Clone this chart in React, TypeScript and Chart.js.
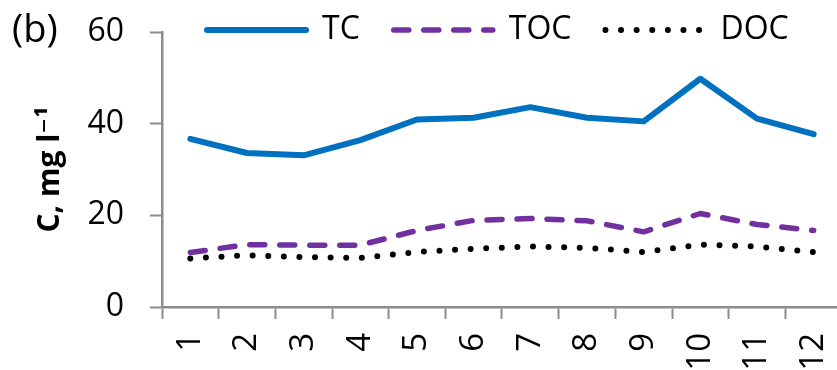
import { useEffect, useRef } from "react";
import { Chart, registerables } from "chart.js";

Chart.register(...registerables);

// Monthly carbon concentrations, mg l-1
const months = ["1", "2", "3", "4", "5", "6", "7", "8", "9", "10", "11", "12"];
const tcValues = [36.7, 33.6, 33.1, 36.4, 40.9, 41.3, 43.6, 41.3, 40.5, 49.8, 41.1, 37.7];
const tocValues = [11.9, 13.6, 13.5, 13.5, 16.7, 18.9, 19.3, 18.8, 16.4, 20.4, 18.0, 16.7];
const docValues = [10.6, 11.3, 10.9, 10.7, 12.0, 12.7, 13.2, 12.9, 12.0, 13.6, 13.2, 12.0];
const yTickValues = [0, 20, 40, 60];

const FONT = "'Open Sans', 'DejaVu Sans', sans-serif";
const AXIS_GREY = "#8c8c8c";
const LEGEND_FONT = 32;
const LEGEND_PAD = 34;
const LEGEND_SAMPLE = 99;

// Puts the legend row on the same line as the top of the value axis
const legendPlacement = {
  id: "legendPlacement",
  afterLayout(chart: any) {
    const lg = chart.legend;
    if (!lg) return;
    lg.left = 207 - LEGEND_PAD;
    lg.right = chart.width;
    lg.top = 30 - LEGEND_PAD - LEGEND_FONT / 2;
    lg.bottom = lg.top + 2 * LEGEND_PAD + LEGEND_FONT + 10;
    lg.width = lg.right - lg.left;
    lg.height = lg.bottom - lg.top;
  },
};

export default function App() {
  const canvasRef = useRef<HTMLCanvasElement | null>(null);

  useEffect(() => {
    document.body.style.margin = "0";
    const canvas = canvasRef.current;
    if (!canvas) return;
    const chart = new Chart(canvas, {
      type: "line",
      data: {
        labels: months,
        datasets: [
          {
            label: "TC",
            data: tcValues,
            borderColor: "#0070C0",
            backgroundColor: "#0070C0",
            borderWidth: 6,
            borderCapStyle: "round",
            borderJoinStyle: "round",
            pointRadius: 0,
            tension: 0,
          },
          {
            label: "TOC",
            data: tocValues,
            borderColor: "#7030A0",
            backgroundColor: "#7030A0",
            borderWidth: 5.5,
            borderDash: [15, 15],
            borderCapStyle: "round",
            borderJoinStyle: "round",
            pointRadius: 0,
            tension: 0,
          },
          {
            label: "DOC",
            data: docValues,
            borderColor: "#000000",
            backgroundColor: "#000000",
            borderWidth: 6,
            borderDash: [0, 15.6],
            borderCapStyle: "round",
            borderJoinStyle: "round",
            pointRadius: 0,
            tension: 0,
          },
        ],
      },
      options: {
        responsive: false,
        animation: false,
        devicePixelRatio: 1,
        layout: { autoPadding: false, padding: { top: 31, right: 8, bottom: 0, left: 0 } },
        plugins: {
          tooltip: { enabled: false },
          legend: {
            position: "top",
            align: "start",
            maxHeight: 1,
            labels: {
              usePointStyle: true,
              pointStyle: "line",
              pointStyleWidth: LEGEND_SAMPLE,
              boxHeight: LEGEND_FONT,
              padding: LEGEND_PAD,
              color: "#000",
              font: { family: FONT, size: LEGEND_FONT },
              // legend samples use each series' own stroke (dash, cap, width)
              generateLabels(chart: any) {
                const base = Chart.defaults.plugins.legend.labels.generateLabels(chart);
                return base.map((item: any) => {
                  const ds: any = chart.data.datasets[item.datasetIndex];
                  return {
                    ...item,
                    pointStyle: "line",
                    strokeStyle: ds.borderColor,
                    fillStyle: ds.borderColor,
                    lineWidth: ds.borderWidth,
                    lineDash: ds.borderDash || [],
                    lineCap: ds.borderCapStyle,
                    lineJoin: ds.borderJoinStyle,
                  };
                });
              },
            },
          },
        },
        scales: {
          x: {
            type: "category",
            offset: true,
            grid: {
              offset: true,
              drawOnChartArea: false,
              drawTicks: true,
              tickLength: 12,
              tickWidth: 2,
              tickColor: AXIS_GREY,
            },
            border: { color: AXIS_GREY, width: 2.5 },
            ticks: {
              autoSkip: false,
              minRotation: 90,
              maxRotation: 90,
              padding: 14,
              color: "#000",
              font: { family: FONT, size: 33 },
            },
            afterFit(scale: any) {
              scale.height = 63;
              scale.paddingLeft = 0;
              scale.paddingRight = 0;
            },
          },
          y: {
            min: 0,
            max: 60,
            afterBuildTicks(scale: any) {
              scale.ticks = yTickValues.map((v) => ({ value: v }));
            },
            grid: {
              drawOnChartArea: false,
              drawTicks: true,
              tickLength: 12,
              tickWidth: 2,
              tickColor: AXIS_GREY,
            },
            border: { color: AXIS_GREY, width: 2.5 },
            ticks: {
              padding: 26,
              color: "#000",
              font: { family: FONT, size: 32 },
            },
            title: {
              display: true,
              text: "C, mg l\u207B\u00B9",
              color: "#000",
              padding: { top: 32, bottom: 0 },
              font: { family: FONT, size: 30, weight: "bold" },
            },
            afterFit(scale: any) {
              scale.width = 162;
              scale.paddingTop = 0;
              scale.paddingBottom = 0;
            },
          },
        },
      },
      plugins: [legendPlacement],
    });
    return () => chart.destroy();
  }, []);

  return (
    <div
      style={{
        position: "fixed",
        left: 0,
        top: 0,
        width: 837,
        height: 370,
        overflow: "hidden",
        background: "#fff",
      }}
    >
      <canvas ref={canvasRef} width={850} height={370} style={{ display: "block" }} />
      <div
        style={{
          position: "absolute",
          left: 12,
          top: 3,
          fontFamily: FONT,
          fontSize: 38,
          lineHeight: "48px",
          color: "#000",
        }}
      >
        (b)
      </div>
    </div>
  );
}
